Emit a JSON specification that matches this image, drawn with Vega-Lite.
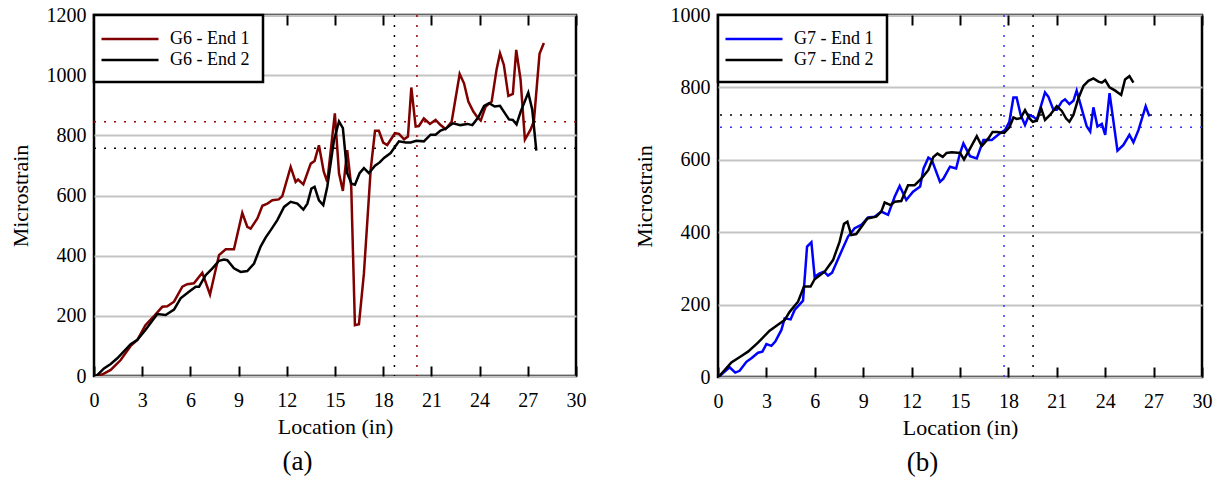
{
  "$schema": "https://vega.github.io/schema/vega-lite/v6.json",
  "background": "white",
  "padding": {"left": 7, "top": 3, "right": 5, "bottom": 2},
  "spacing": 43,
  "config": {
    "font": "Liberation Serif",
    "view": {"stroke": "black", "strokeWidth": 2.5},
    "axis": {"labelFont": "Liberation Serif", "labelFontSize": 20, "labelColor": "black", "titleFont": "Liberation Serif", "titleFontSize": 22, "titleFontWeight": "normal", "titleColor": "black", "domain": false, "grid": false},
    "legend": {"orient": "top-left", "offset": 0, "fillColor": "white", "strokeColor": "black", "strokeWidth": 2.5, "padding": 13, "symbolType": "M-3,0H3", "symbolSize": 361, "symbolOffset": 12, "symbolStrokeWidth": 2.5, "labelFont": "Liberation Serif", "labelFontSize": 18, "labelColor": "black", "labelOffset": 29, "rowPadding": 1, "labelLimit": 300},
    "title": {"font": "Liberation Serif", "fontWeight": "normal", "color": "black"}
  },
  "resolve": {"scale": {"color": "independent"}},
  "datasets": {
    "g6": [
      {"loc": 0, "strain": 0, "series": "G6 - End 1"},
      {"loc": 0.5, "strain": 5, "series": "G6 - End 1"},
      {"loc": 1.04, "strain": 20, "series": "G6 - End 1"},
      {"loc": 1.66, "strain": 53, "series": "G6 - End 1"},
      {"loc": 2.28, "strain": 100, "series": "G6 - End 1"},
      {"loc": 2.7, "strain": 120, "series": "G6 - End 1"},
      {"loc": 3.2, "strain": 169, "series": "G6 - End 1"},
      {"loc": 3.7, "strain": 197, "series": "G6 - End 1"},
      {"loc": 4.25, "strain": 230, "series": "G6 - End 1"},
      {"loc": 4.56, "strain": 232, "series": "G6 - End 1"},
      {"loc": 4.98, "strain": 247, "series": "G6 - End 1"},
      {"loc": 5.5, "strain": 297, "series": "G6 - End 1"},
      {"loc": 5.8, "strain": 305, "series": "G6 - End 1"},
      {"loc": 6.22, "strain": 308, "series": "G6 - End 1"},
      {"loc": 6.74, "strain": 343, "series": "G6 - End 1"},
      {"loc": 7.22, "strain": 271, "series": "G6 - End 1"},
      {"loc": 7.78, "strain": 402, "series": "G6 - End 1"},
      {"loc": 8.2, "strain": 421, "series": "G6 - End 1"},
      {"loc": 8.71, "strain": 421, "series": "G6 - End 1"},
      {"loc": 9.23, "strain": 542, "series": "G6 - End 1"},
      {"loc": 9.54, "strain": 496, "series": "G6 - End 1"},
      {"loc": 9.75, "strain": 490, "series": "G6 - End 1"},
      {"loc": 10.17, "strain": 524, "series": "G6 - End 1"},
      {"loc": 10.48, "strain": 566, "series": "G6 - End 1"},
      {"loc": 10.79, "strain": 573, "series": "G6 - End 1"},
      {"loc": 11.1, "strain": 584, "series": "G6 - End 1"},
      {"loc": 11.5, "strain": 587, "series": "G6 - End 1"},
      {"loc": 11.72, "strain": 598, "series": "G6 - End 1"},
      {"loc": 12.24, "strain": 695, "series": "G6 - End 1"},
      {"loc": 12.55, "strain": 645, "series": "G6 - End 1"},
      {"loc": 12.7, "strain": 653, "series": "G6 - End 1"},
      {"loc": 13.03, "strain": 637, "series": "G6 - End 1"},
      {"loc": 13.49, "strain": 706, "series": "G6 - End 1"},
      {"loc": 13.73, "strain": 715, "series": "G6 - End 1"},
      {"loc": 14.0, "strain": 767, "series": "G6 - End 1"},
      {"loc": 14.3, "strain": 679, "series": "G6 - End 1"},
      {"loc": 14.52, "strain": 645, "series": "G6 - End 1"},
      {"loc": 14.99, "strain": 873, "series": "G6 - End 1"},
      {"loc": 15.25, "strain": 674, "series": "G6 - End 1"},
      {"loc": 15.49, "strain": 615, "series": "G6 - End 1"},
      {"loc": 15.76, "strain": 751, "series": "G6 - End 1"},
      {"loc": 16.01, "strain": 630, "series": "G6 - End 1"},
      {"loc": 16.24, "strain": 169, "series": "G6 - End 1"},
      {"loc": 16.49, "strain": 172, "series": "G6 - End 1"},
      {"loc": 16.8, "strain": 341, "series": "G6 - End 1"},
      {"loc": 17.22, "strain": 685, "series": "G6 - End 1"},
      {"loc": 17.49, "strain": 815, "series": "G6 - End 1"},
      {"loc": 17.73, "strain": 815, "series": "G6 - End 1"},
      {"loc": 18.0, "strain": 776, "series": "G6 - End 1"},
      {"loc": 18.25, "strain": 768, "series": "G6 - End 1"},
      {"loc": 18.73, "strain": 807, "series": "G6 - End 1"},
      {"loc": 18.98, "strain": 805, "series": "G6 - End 1"},
      {"loc": 19.3, "strain": 787, "series": "G6 - End 1"},
      {"loc": 19.54, "strain": 796, "series": "G6 - End 1"},
      {"loc": 19.75, "strain": 959, "series": "G6 - End 1"},
      {"loc": 20.02, "strain": 829, "series": "G6 - End 1"},
      {"loc": 20.22, "strain": 831, "series": "G6 - End 1"},
      {"loc": 20.53, "strain": 856, "series": "G6 - End 1"},
      {"loc": 20.91, "strain": 838, "series": "G6 - End 1"},
      {"loc": 21.26, "strain": 851, "series": "G6 - End 1"},
      {"loc": 21.57, "strain": 834, "series": "G6 - End 1"},
      {"loc": 21.88, "strain": 821, "series": "G6 - End 1"},
      {"loc": 22.26, "strain": 845, "series": "G6 - End 1"},
      {"loc": 22.76, "strain": 1004, "series": "G6 - End 1"},
      {"loc": 23.03, "strain": 973, "series": "G6 - End 1"},
      {"loc": 23.3, "strain": 912, "series": "G6 - End 1"},
      {"loc": 23.61, "strain": 879, "series": "G6 - End 1"},
      {"loc": 23.86, "strain": 860, "series": "G6 - End 1"},
      {"loc": 24.07, "strain": 849, "series": "G6 - End 1"},
      {"loc": 24.38, "strain": 896, "series": "G6 - End 1"},
      {"loc": 24.75, "strain": 912, "series": "G6 - End 1"},
      {"loc": 25.06, "strain": 1020, "series": "G6 - End 1"},
      {"loc": 25.27, "strain": 1073, "series": "G6 - End 1"},
      {"loc": 25.51, "strain": 1034, "series": "G6 - End 1"},
      {"loc": 25.79, "strain": 931, "series": "G6 - End 1"},
      {"loc": 26.07, "strain": 938, "series": "G6 - End 1"},
      {"loc": 26.28, "strain": 1084, "series": "G6 - End 1"},
      {"loc": 26.55, "strain": 985, "series": "G6 - End 1"},
      {"loc": 26.82, "strain": 786, "series": "G6 - End 1"},
      {"loc": 27.17, "strain": 819, "series": "G6 - End 1"},
      {"loc": 27.38, "strain": 847, "series": "G6 - End 1"},
      {"loc": 27.73, "strain": 1071, "series": "G6 - End 1"},
      {"loc": 28.0, "strain": 1107, "series": "G6 - End 1"},
      {"loc": 0, "strain": 0, "series": "G6 - End 2"},
      {"loc": 0.2, "strain": 3, "series": "G6 - End 2"},
      {"loc": 0.62, "strain": 25, "series": "G6 - End 2"},
      {"loc": 1.04, "strain": 40, "series": "G6 - End 2"},
      {"loc": 1.45, "strain": 59, "series": "G6 - End 2"},
      {"loc": 2.28, "strain": 106, "series": "G6 - End 2"},
      {"loc": 2.7, "strain": 120, "series": "G6 - End 2"},
      {"loc": 3.2, "strain": 153, "series": "G6 - End 2"},
      {"loc": 3.94, "strain": 206, "series": "G6 - End 2"},
      {"loc": 4.46, "strain": 203, "series": "G6 - End 2"},
      {"loc": 4.98, "strain": 221, "series": "G6 - End 2"},
      {"loc": 5.39, "strain": 258, "series": "G6 - End 2"},
      {"loc": 5.91, "strain": 280, "series": "G6 - End 2"},
      {"loc": 6.33, "strain": 297, "series": "G6 - End 2"},
      {"loc": 6.54, "strain": 297, "series": "G6 - End 2"},
      {"loc": 6.95, "strain": 335, "series": "G6 - End 2"},
      {"loc": 7.37, "strain": 358, "series": "G6 - End 2"},
      {"loc": 7.78, "strain": 383, "series": "G6 - End 2"},
      {"loc": 8.09, "strain": 387, "series": "G6 - End 2"},
      {"loc": 8.3, "strain": 385, "series": "G6 - End 2"},
      {"loc": 8.71, "strain": 358, "series": "G6 - End 2"},
      {"loc": 9.13, "strain": 346, "series": "G6 - End 2"},
      {"loc": 9.54, "strain": 349, "series": "G6 - End 2"},
      {"loc": 9.96, "strain": 374, "series": "G6 - End 2"},
      {"loc": 10.37, "strain": 430, "series": "G6 - End 2"},
      {"loc": 10.68, "strain": 460, "series": "G6 - End 2"},
      {"loc": 11.0, "strain": 485, "series": "G6 - End 2"},
      {"loc": 11.41, "strain": 518, "series": "G6 - End 2"},
      {"loc": 11.83, "strain": 562, "series": "G6 - End 2"},
      {"loc": 12.24, "strain": 579, "series": "G6 - End 2"},
      {"loc": 12.66, "strain": 573, "series": "G6 - End 2"},
      {"loc": 13.03, "strain": 553, "series": "G6 - End 2"},
      {"loc": 13.28, "strain": 573, "series": "G6 - End 2"},
      {"loc": 13.53, "strain": 623, "series": "G6 - End 2"},
      {"loc": 13.73, "strain": 629, "series": "G6 - End 2"},
      {"loc": 14.0, "strain": 584, "series": "G6 - End 2"},
      {"loc": 14.27, "strain": 568, "series": "G6 - End 2"},
      {"loc": 14.52, "strain": 629, "series": "G6 - End 2"},
      {"loc": 14.94, "strain": 785, "series": "G6 - End 2"},
      {"loc": 15.25, "strain": 846, "series": "G6 - End 2"},
      {"loc": 15.49, "strain": 824, "series": "G6 - End 2"},
      {"loc": 15.76, "strain": 674, "series": "G6 - End 2"},
      {"loc": 16.03, "strain": 639, "series": "G6 - End 2"},
      {"loc": 16.24, "strain": 636, "series": "G6 - End 2"},
      {"loc": 16.53, "strain": 674, "series": "G6 - End 2"},
      {"loc": 16.8, "strain": 691, "series": "G6 - End 2"},
      {"loc": 17.11, "strain": 674, "series": "G6 - End 2"},
      {"loc": 17.49, "strain": 699, "series": "G6 - End 2"},
      {"loc": 17.78, "strain": 710, "series": "G6 - End 2"},
      {"loc": 18.05, "strain": 725, "series": "G6 - End 2"},
      {"loc": 18.46, "strain": 741, "series": "G6 - End 2"},
      {"loc": 18.98, "strain": 780, "series": "G6 - End 2"},
      {"loc": 19.4, "strain": 776, "series": "G6 - End 2"},
      {"loc": 19.71, "strain": 776, "series": "G6 - End 2"},
      {"loc": 20.06, "strain": 782, "series": "G6 - End 2"},
      {"loc": 20.53, "strain": 780, "series": "G6 - End 2"},
      {"loc": 20.95, "strain": 802, "series": "G6 - End 2"},
      {"loc": 21.26, "strain": 802, "series": "G6 - End 2"},
      {"loc": 21.57, "strain": 816, "series": "G6 - End 2"},
      {"loc": 21.88, "strain": 822, "series": "G6 - End 2"},
      {"loc": 22.34, "strain": 840, "series": "G6 - End 2"},
      {"loc": 22.81, "strain": 834, "series": "G6 - End 2"},
      {"loc": 23.24, "strain": 838, "series": "G6 - End 2"},
      {"loc": 23.55, "strain": 834, "series": "G6 - End 2"},
      {"loc": 23.92, "strain": 860, "series": "G6 - End 2"},
      {"loc": 24.28, "strain": 898, "series": "G6 - End 2"},
      {"loc": 24.59, "strain": 907, "series": "G6 - End 2"},
      {"loc": 24.94, "strain": 896, "series": "G6 - End 2"},
      {"loc": 25.27, "strain": 898, "series": "G6 - End 2"},
      {"loc": 25.58, "strain": 873, "series": "G6 - End 2"},
      {"loc": 25.83, "strain": 853, "series": "G6 - End 2"},
      {"loc": 26.07, "strain": 851, "series": "G6 - End 2"},
      {"loc": 26.3, "strain": 836, "series": "G6 - End 2"},
      {"loc": 26.55, "strain": 878, "series": "G6 - End 2"},
      {"loc": 27.03, "strain": 942, "series": "G6 - End 2"},
      {"loc": 27.28, "strain": 884, "series": "G6 - End 2"},
      {"loc": 27.53, "strain": 749, "series": "G6 - End 2"}
    ],
    "g7": [
      {"loc": 0, "strain": 0, "series": "G7 - End 1"},
      {"loc": 0.1, "strain": 3, "series": "G7 - End 1"},
      {"loc": 0.72, "strain": 27, "series": "G7 - End 1"},
      {"loc": 1.07, "strain": 12, "series": "G7 - End 1"},
      {"loc": 1.34, "strain": 17, "series": "G7 - End 1"},
      {"loc": 1.76, "strain": 42, "series": "G7 - End 1"},
      {"loc": 2.07, "strain": 52, "series": "G7 - End 1"},
      {"loc": 2.48, "strain": 67, "series": "G7 - End 1"},
      {"loc": 2.75, "strain": 70, "series": "G7 - End 1"},
      {"loc": 3.0, "strain": 91, "series": "G7 - End 1"},
      {"loc": 3.31, "strain": 86, "series": "G7 - End 1"},
      {"loc": 3.55, "strain": 98, "series": "G7 - End 1"},
      {"loc": 3.93, "strain": 130, "series": "G7 - End 1"},
      {"loc": 4.13, "strain": 162, "series": "G7 - End 1"},
      {"loc": 4.5, "strain": 159, "series": "G7 - End 1"},
      {"loc": 4.75, "strain": 185, "series": "G7 - End 1"},
      {"loc": 5.27, "strain": 211, "series": "G7 - End 1"},
      {"loc": 5.52, "strain": 360, "series": "G7 - End 1"},
      {"loc": 5.79, "strain": 372, "series": "G7 - End 1"},
      {"loc": 5.99, "strain": 277, "series": "G7 - End 1"},
      {"loc": 6.3, "strain": 286, "series": "G7 - End 1"},
      {"loc": 6.57, "strain": 291, "series": "G7 - End 1"},
      {"loc": 6.82, "strain": 280, "series": "G7 - End 1"},
      {"loc": 7.07, "strain": 288, "series": "G7 - End 1"},
      {"loc": 7.64, "strain": 346, "series": "G7 - End 1"},
      {"loc": 8.06, "strain": 388, "series": "G7 - End 1"},
      {"loc": 8.47, "strain": 411, "series": "G7 - End 1"},
      {"loc": 8.88, "strain": 420, "series": "G7 - End 1"},
      {"loc": 9.3, "strain": 441, "series": "G7 - End 1"},
      {"loc": 9.71, "strain": 443, "series": "G7 - End 1"},
      {"loc": 10.12, "strain": 457, "series": "G7 - End 1"},
      {"loc": 10.54, "strain": 448, "series": "G7 - End 1"},
      {"loc": 10.95, "strain": 498, "series": "G7 - End 1"},
      {"loc": 11.26, "strain": 528, "series": "G7 - End 1"},
      {"loc": 11.67, "strain": 489, "series": "G7 - End 1"},
      {"loc": 12.09, "strain": 512, "series": "G7 - End 1"},
      {"loc": 12.53, "strain": 526, "series": "G7 - End 1"},
      {"loc": 12.74, "strain": 576, "series": "G7 - End 1"},
      {"loc": 13.04, "strain": 606, "series": "G7 - End 1"},
      {"loc": 13.25, "strain": 600, "series": "G7 - End 1"},
      {"loc": 13.76, "strain": 539, "series": "G7 - End 1"},
      {"loc": 13.97, "strain": 548, "series": "G7 - End 1"},
      {"loc": 14.38, "strain": 581, "series": "G7 - End 1"},
      {"loc": 14.76, "strain": 576, "series": "G7 - End 1"},
      {"loc": 15.0, "strain": 618, "series": "G7 - End 1"},
      {"loc": 15.21, "strain": 645, "series": "G7 - End 1"},
      {"loc": 15.62, "strain": 610, "series": "G7 - End 1"},
      {"loc": 16.04, "strain": 604, "series": "G7 - End 1"},
      {"loc": 16.45, "strain": 655, "series": "G7 - End 1"},
      {"loc": 16.97, "strain": 655, "series": "G7 - End 1"},
      {"loc": 17.48, "strain": 673, "series": "G7 - End 1"},
      {"loc": 17.79, "strain": 682, "series": "G7 - End 1"},
      {"loc": 18.06, "strain": 705, "series": "G7 - End 1"},
      {"loc": 18.31, "strain": 772, "series": "G7 - End 1"},
      {"loc": 18.51, "strain": 772, "series": "G7 - End 1"},
      {"loc": 18.76, "strain": 724, "series": "G7 - End 1"},
      {"loc": 19.03, "strain": 696, "series": "G7 - End 1"},
      {"loc": 19.28, "strain": 724, "series": "G7 - End 1"},
      {"loc": 19.55, "strain": 719, "series": "G7 - End 1"},
      {"loc": 19.76, "strain": 710, "series": "G7 - End 1"},
      {"loc": 20.27, "strain": 786, "series": "G7 - End 1"},
      {"loc": 20.48, "strain": 774, "series": "G7 - End 1"},
      {"loc": 20.79, "strain": 738, "series": "G7 - End 1"},
      {"loc": 21.0, "strain": 738, "series": "G7 - End 1"},
      {"loc": 21.31, "strain": 761, "series": "G7 - End 1"},
      {"loc": 21.51, "strain": 767, "series": "G7 - End 1"},
      {"loc": 21.78, "strain": 754, "series": "G7 - End 1"},
      {"loc": 22.03, "strain": 763, "series": "G7 - End 1"},
      {"loc": 22.23, "strain": 791, "series": "G7 - End 1"},
      {"loc": 22.65, "strain": 724, "series": "G7 - End 1"},
      {"loc": 22.86, "strain": 692, "series": "G7 - End 1"},
      {"loc": 23.07, "strain": 678, "series": "G7 - End 1"},
      {"loc": 23.27, "strain": 745, "series": "G7 - End 1"},
      {"loc": 23.52, "strain": 692, "series": "G7 - End 1"},
      {"loc": 23.79, "strain": 699, "series": "G7 - End 1"},
      {"loc": 24.0, "strain": 669, "series": "G7 - End 1"},
      {"loc": 24.27, "strain": 784, "series": "G7 - End 1"},
      {"loc": 24.76, "strain": 625, "series": "G7 - End 1"},
      {"loc": 25.13, "strain": 641, "series": "G7 - End 1"},
      {"loc": 25.5, "strain": 669, "series": "G7 - End 1"},
      {"loc": 25.75, "strain": 648, "series": "G7 - End 1"},
      {"loc": 26.06, "strain": 682, "series": "G7 - End 1"},
      {"loc": 26.51, "strain": 748, "series": "G7 - End 1"},
      {"loc": 26.74, "strain": 720, "series": "G7 - End 1"},
      {"loc": 0, "strain": 0, "series": "G7 - End 2"},
      {"loc": 0.1, "strain": 3, "series": "G7 - End 2"},
      {"loc": 0.83, "strain": 40, "series": "G7 - End 2"},
      {"loc": 1.45, "strain": 58, "series": "G7 - End 2"},
      {"loc": 1.86, "strain": 70, "series": "G7 - End 2"},
      {"loc": 2.48, "strain": 95, "series": "G7 - End 2"},
      {"loc": 3.2, "strain": 128, "series": "G7 - End 2"},
      {"loc": 3.82, "strain": 148, "series": "G7 - End 2"},
      {"loc": 4.13, "strain": 157, "series": "G7 - End 2"},
      {"loc": 4.44, "strain": 180, "series": "G7 - End 2"},
      {"loc": 4.96, "strain": 208, "series": "G7 - End 2"},
      {"loc": 5.33, "strain": 250, "series": "G7 - End 2"},
      {"loc": 5.74, "strain": 250, "series": "G7 - End 2"},
      {"loc": 5.99, "strain": 270, "series": "G7 - End 2"},
      {"loc": 6.61, "strain": 291, "series": "G7 - End 2"},
      {"loc": 7.13, "strain": 323, "series": "G7 - End 2"},
      {"loc": 7.54, "strain": 374, "series": "G7 - End 2"},
      {"loc": 7.81, "strain": 423, "series": "G7 - End 2"},
      {"loc": 8.02, "strain": 429, "series": "G7 - End 2"},
      {"loc": 8.26, "strain": 392, "series": "G7 - End 2"},
      {"loc": 8.57, "strain": 395, "series": "G7 - End 2"},
      {"loc": 9.26, "strain": 438, "series": "G7 - End 2"},
      {"loc": 9.81, "strain": 443, "series": "G7 - End 2"},
      {"loc": 10.12, "strain": 457, "series": "G7 - End 2"},
      {"loc": 10.33, "strain": 482, "series": "G7 - End 2"},
      {"loc": 10.7, "strain": 475, "series": "G7 - End 2"},
      {"loc": 10.95, "strain": 484, "series": "G7 - End 2"},
      {"loc": 11.36, "strain": 486, "series": "G7 - End 2"},
      {"loc": 11.78, "strain": 530, "series": "G7 - End 2"},
      {"loc": 12.19, "strain": 530, "series": "G7 - End 2"},
      {"loc": 12.63, "strain": 549, "series": "G7 - End 2"},
      {"loc": 13.04, "strain": 572, "series": "G7 - End 2"},
      {"loc": 13.35, "strain": 608, "series": "G7 - End 2"},
      {"loc": 13.6, "strain": 617, "series": "G7 - End 2"},
      {"loc": 13.93, "strain": 608, "series": "G7 - End 2"},
      {"loc": 14.17, "strain": 619, "series": "G7 - End 2"},
      {"loc": 14.49, "strain": 621, "series": "G7 - End 2"},
      {"loc": 15.0, "strain": 619, "series": "G7 - End 2"},
      {"loc": 15.25, "strain": 601, "series": "G7 - End 2"},
      {"loc": 15.62, "strain": 631, "series": "G7 - End 2"},
      {"loc": 16.04, "strain": 665, "series": "G7 - End 2"},
      {"loc": 16.35, "strain": 638, "series": "G7 - End 2"},
      {"loc": 16.76, "strain": 659, "series": "G7 - End 2"},
      {"loc": 17.02, "strain": 677, "series": "G7 - End 2"},
      {"loc": 17.31, "strain": 677, "series": "G7 - End 2"},
      {"loc": 17.74, "strain": 674, "series": "G7 - End 2"},
      {"loc": 18.06, "strain": 690, "series": "G7 - End 2"},
      {"loc": 18.31, "strain": 717, "series": "G7 - End 2"},
      {"loc": 18.51, "strain": 713, "series": "G7 - End 2"},
      {"loc": 18.76, "strain": 715, "series": "G7 - End 2"},
      {"loc": 19.03, "strain": 737, "series": "G7 - End 2"},
      {"loc": 19.3, "strain": 715, "series": "G7 - End 2"},
      {"loc": 19.51, "strain": 705, "series": "G7 - End 2"},
      {"loc": 19.76, "strain": 708, "series": "G7 - End 2"},
      {"loc": 20.03, "strain": 742, "series": "G7 - End 2"},
      {"loc": 20.27, "strain": 710, "series": "G7 - End 2"},
      {"loc": 20.58, "strain": 724, "series": "G7 - End 2"},
      {"loc": 21.0, "strain": 748, "series": "G7 - End 2"},
      {"loc": 21.31, "strain": 735, "series": "G7 - End 2"},
      {"loc": 21.58, "strain": 714, "series": "G7 - End 2"},
      {"loc": 21.78, "strain": 705, "series": "G7 - End 2"},
      {"loc": 22.03, "strain": 724, "series": "G7 - End 2"},
      {"loc": 22.34, "strain": 770, "series": "G7 - End 2"},
      {"loc": 22.65, "strain": 804, "series": "G7 - End 2"},
      {"loc": 22.96, "strain": 818, "series": "G7 - End 2"},
      {"loc": 23.27, "strain": 825, "series": "G7 - End 2"},
      {"loc": 23.58, "strain": 816, "series": "G7 - End 2"},
      {"loc": 23.79, "strain": 813, "series": "G7 - End 2"},
      {"loc": 24.0, "strain": 820, "series": "G7 - End 2"},
      {"loc": 24.27, "strain": 800, "series": "G7 - End 2"},
      {"loc": 24.62, "strain": 791, "series": "G7 - End 2"},
      {"loc": 24.99, "strain": 779, "series": "G7 - End 2"},
      {"loc": 25.23, "strain": 822, "series": "G7 - End 2"},
      {"loc": 25.5, "strain": 831, "series": "G7 - End 2"},
      {"loc": 25.75, "strain": 813, "series": "G7 - End 2"}
    ]
  },
  "hconcat": [
    {
      "width": 482,
      "height": 361,
      "title": {"text": "(a)", "orient": "bottom", "anchor": "middle", "frame": "bounds", "fontSize": 27, "offset": 12},
      "resolve": {"axis": {"x": "independent"}},
      "layer": [
        {
          "data": {"values": [{"loc": 18.7}]},
          "mark": {"type": "rule", "color": "#000000", "strokeWidth": 1.5, "strokeDash": [2, 8]},
          "encoding": {"x": {"field": "loc", "type": "quantitative", "axis": {"orient": "top", "values": [0, 3, 6, 9, 12, 15, 18, 21, 24, 27, 30], "labels": false, "title": null, "ticks": true, "tickSize": -10, "tickWidth": 2, "tickColor": "black"}}}
        },
        {
          "data": {"values": [{"loc": 20.1}]},
          "mark": {"type": "rule", "color": "#a00000", "strokeWidth": 1.5, "strokeDash": [2, 8]},
          "encoding": {"x": {"field": "loc", "type": "quantitative", "axis": null}}
        },
        {
          "data": {"values": [{"strain": 845}]},
          "mark": {"type": "rule", "color": "#a00000", "strokeWidth": 1.5, "strokeDash": [2, 8]},
          "encoding": {"y": {"field": "strain", "type": "quantitative"}}
        },
        {
          "data": {"values": [{"strain": 757}]},
          "mark": {"type": "rule", "color": "#000000", "strokeWidth": 1.5, "strokeDash": [2, 8]},
          "encoding": {"y": {"field": "strain", "type": "quantitative"}}
        },
        {
          "data": {"name": "g6"},
          "mark": {"type": "line", "strokeWidth": 2.5, "clip": true},
          "encoding": {
            "x": {"field": "loc", "type": "quantitative", "scale": {"domain": [0, 30], "nice": false, "zero": false},
                  "axis": {"orient": "bottom", "values": [0, 3, 6, 9, 12, 15, 18, 21, 24, 27, 30], "format": "d", "title": "Location (in)", "ticks": true, "tickSize": -10, "tickWidth": 2, "tickColor": "black", "labelPadding": 24, "titlePadding": 6, "labelFlush": false}},
            "y": {"field": "strain", "type": "quantitative", "scale": {"domain": [0, 1200], "nice": false},
                  "axis": {"values": [0, 200, 400, 600, 800, 1000, 1200], "format": "d", "title": "Microstrain", "ticks": false, "grid": true, "gridColor": "#c4c4c4", "gridWidth": 2, "labelPadding": 8, "titlePadding": 14, "labelFlush": false}},
            "color": {"field": "series", "type": "nominal", "scale": {"domain": ["G6 - End 1", "G6 - End 2"], "range": ["#800000", "#000000"]}, "legend": {"title": null}}
          }
        }
      ]
    },
    {
      "width": 484,
      "height": 362,
      "title": {"text": "(b)", "orient": "bottom", "anchor": "middle", "frame": "bounds", "fontSize": 27, "offset": 12},
      "resolve": {"axis": {"x": "independent"}},
      "layer": [
        {
          "data": {"values": [{"loc": 19.53}]},
          "mark": {"type": "rule", "color": "#000000", "strokeWidth": 1.5, "strokeDash": [2, 8]},
          "encoding": {"x": {"field": "loc", "type": "quantitative", "axis": {"orient": "top", "values": [0, 3, 6, 9, 12, 15, 18, 21, 24, 27, 30], "labels": false, "title": null, "ticks": true, "tickSize": -10, "tickWidth": 2, "tickColor": "black"}}}
        },
        {
          "data": {"values": [{"loc": 17.73}]},
          "mark": {"type": "rule", "color": "#3333ff", "strokeWidth": 1.5, "strokeDash": [2, 8]},
          "encoding": {"x": {"field": "loc", "type": "quantitative", "axis": null}}
        },
        {
          "data": {"values": [{"strain": 724}]},
          "mark": {"type": "rule", "color": "#000000", "strokeWidth": 1.5, "strokeDash": [2, 8]},
          "encoding": {"y": {"field": "strain", "type": "quantitative"}}
        },
        {
          "data": {"values": [{"strain": 690}]},
          "mark": {"type": "rule", "color": "#3333ff", "strokeWidth": 1.5, "strokeDash": [2, 8]},
          "encoding": {"y": {"field": "strain", "type": "quantitative"}}
        },
        {
          "data": {"name": "g7"},
          "mark": {"type": "line", "strokeWidth": 2.5, "clip": true},
          "encoding": {
            "x": {"field": "loc", "type": "quantitative", "scale": {"domain": [0, 30], "nice": false, "zero": false},
                  "axis": {"orient": "bottom", "values": [0, 3, 6, 9, 12, 15, 18, 21, 24, 27, 30], "format": "d", "title": "Location (in)", "ticks": true, "tickSize": -10, "tickWidth": 2, "tickColor": "black", "labelPadding": 24, "titlePadding": 6, "labelFlush": false}},
            "y": {"field": "strain", "type": "quantitative", "scale": {"domain": [0, 1000], "nice": false},
                  "axis": {"values": [0, 200, 400, 600, 800, 1000], "format": "d", "title": "Microstrain", "ticks": false, "grid": true, "gridColor": "#c4c4c4", "gridWidth": 2, "labelPadding": 8, "titlePadding": 14, "labelFlush": false}},
            "color": {"field": "series", "type": "nominal", "scale": {"domain": ["G7 - End 1", "G7 - End 2"], "range": ["#0000ff", "#000000"]}, "legend": {"title": null}}
          }
        }
      ]
    }
  ]
}
